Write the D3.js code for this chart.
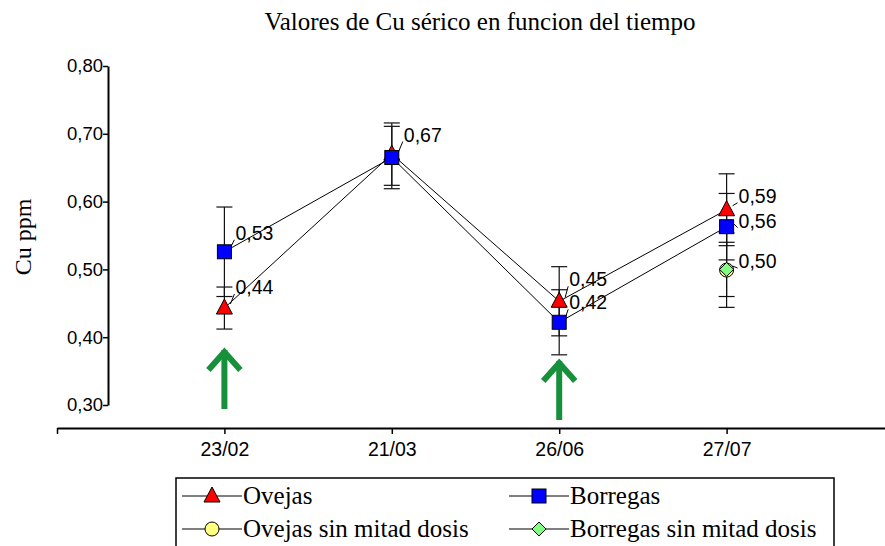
<!DOCTYPE html>
<html>
<head>
<meta charset="utf-8">
<script src="https://cdn.jsdelivr.net/npm/d3@7/dist/d3.min.js"></script>
<style>
  body { margin: 0; background: #fff; }
  svg { display: block; }
</style>
</head>
<body>
<svg id="chart" width="885" height="546"></svg>
<script>
// fechas de muestreo
const fechas = ['23/02', '21/03', '26/06', '27/07'];
const yTicks = [0.30, 0.40, 0.50, 0.60, 0.70, 0.80];

// medias y error por serie (null = sin dato)
const ovejas = [0.443, 0.670, 0.453, 0.588];
const ovejasErr = [0.031, 0.046, 0.051, 0.053];
const borregas = [0.526, 0.665, 0.422, 0.563];
const borregasErr = [0.066, 0.046, 0.048, 0.049];
const ovejasSin = [null, null, null, 0.499];
const ovejasSinErr = [null, null, null, 0.055];
const borregasSin = [null, null, null, 0.500];
const borregasSinErr = [null, null, null, 0.040];

// etiquetas de valor
const etiquetas = [
  { serie: 'borregas', i: 0, text: '0,53', dx: 11, dy: -19 },
  { serie: 'ovejas', i: 0, text: '0,44', dx: 11, dy: -21 },
  { serie: 'borregas', i: 1, text: '0,67', dx: 12, dy: -23 },
  { serie: 'ovejas', i: 2, text: '0,45', dx: 10, dy: -22 },
  { serie: 'borregas', i: 2, text: '0,42', dx: 10, dy: -20 },
  { serie: 'ovejas', i: 3, text: '0,59', dx: 12, dy: -14 },
  { serie: 'borregas', i: 3, text: '0,56', dx: 12, dy: -6 },
  { serie: 'ovejasSin', i: 3, text: '0,50', dx: 12, dy: -9 }
];
const flechas = [0, 2];

const svg = d3.select('#chart');
const x = d3.scaleLinear().domain([0, 5]).range([57, 894]);
const y = d3.scaleLinear().domain([0.30, 0.80]).range([405, 66]);
const yAxisX = 108, xAxisY = 428;
const sans = 'Liberation Sans, Arial, sans-serif';
const serif = 'Liberation Serif, Times New Roman, serif';

const series = {
  ovejas: { vals: ovejas, err: ovejasErr },
  borregas: { vals: borregas, err: borregasErr },
  ovejasSin: { vals: ovejasSin, err: ovejasSinErr },
  borregasSin: { vals: borregasSin, err: borregasSinErr }
};

// título
svg.append('text')
  .attr('x', 480).attr('y', 30)
  .attr('text-anchor', 'middle')
  .attr('font-family', serif)
  .attr('font-size', 25)
  .text('Valores de Cu sérico en funcion del tiempo');

// eje Y
const gy = svg.append('g').attr('transform', `translate(${yAxisX},0)`)
  .call(d3.axisLeft(y).tickValues(yTicks).tickSize(5).tickSizeOuter(0)
    .tickFormat((d) => d3.format('.2f')(d).replace('.', ',')));
gy.select('.domain').attr('stroke', '#000').attr('stroke-width', 2);
gy.selectAll('.tick line').attr('stroke', '#000').attr('stroke-width', 1.5);
gy.selectAll('.tick text')
  .attr('font-family', sans)
  .attr('font-size', 18.5).attr('fill', '#000').attr('x', -5);

svg.append('text')
  .attr('transform', 'translate(31,237) rotate(-90)')
  .attr('text-anchor', 'middle')
  .attr('font-family', serif)
  .attr('font-size', 24)
  .text('Cu ppm');

// eje X
const gx = svg.append('g').attr('transform', `translate(0,${xAxisY})`)
  .call(d3.axisBottom(x).tickValues([0, 1, 2, 3, 4, 5]).tickSize(6).tickSizeOuter(0)
    .tickFormat((d) => fechas[d - 1] || ''));
gx.select('.domain').attr('stroke', '#000').attr('stroke-width', 2);
gx.selectAll('.tick line').attr('stroke', '#000').attr('stroke-width', 1.5);
gx.selectAll('.tick text')
  .attr('font-family', sans)
  .attr('font-size', 19.5).attr('fill', '#000').attr('y', 10).attr('dy', '0.9em');

// flechas verdes
const flechaTop = [347, 358];
const flechaBot = [409, 420];
flechas.forEach((i, k) => {
  const cx = x(i + 1);
  const g = svg.append('g').attr('stroke', '#17903b').attr('fill', 'none')
    .attr('stroke-width', 6);
  g.append('line').attr('x1', cx).attr('x2', cx)
    .attr('y1', flechaTop[k] + 3).attr('y2', flechaBot[k]);
  g.append('path')
    .attr('d', `M${cx - 16},${flechaTop[k] + 23}L${cx},${flechaTop[k] + 5}L${cx + 16},${flechaTop[k] + 23}`);
});

// líneas de series
const line = d3.line()
  .defined((d) => d !== null)
  .x((d, i) => x(i + 1)).y((d) => y(d));
['ovejas', 'borregas'].forEach((k) => {
  svg.append('path').datum(series[k].vals)
    .attr('d', line).attr('fill', 'none')
    .attr('stroke', '#000').attr('stroke-width', 1);
});

// barras de error
Object.keys(series).forEach((k) => {
  const s = series[k];
  s.vals.forEach((v, i) => {
    if (v === null) return;
    const cx = x(i + 1);
    const t = y(v + s.err[i]), b = y(v - s.err[i]);
    const g = svg.append('g').attr('stroke', '#111').attr('stroke-width', 1.2);
    g.append('line').attr('x1', cx).attr('x2', cx).attr('y1', t).attr('y2', b);
    g.append('line').attr('x1', cx - 8).attr('x2', cx + 8).attr('y1', t).attr('y2', t);
    g.append('line').attr('x1', cx - 8).attr('x2', cx + 8).attr('y1', b).attr('y2', b);
  });
});

// etiquetas con línea guía
etiquetas.forEach((e) => {
  const cx = x(e.i + 1), cy = y(series[e.serie].vals[e.i]);
  const lx = cx + e.dx, ly = cy + e.dy;
  svg.append('line')
    .attr('x1', cx + 6).attr('y1', cy - 4)
    .attr('x2', lx - 1).attr('y2', ly + 7)
    .attr('stroke', '#000').attr('stroke-width', 1);
  svg.append('text')
    .attr('x', lx).attr('y', ly + 7)
    .attr('font-family', sans)
    .attr('font-size', 19.5)
    .text(e.text);
});

// marcadores
function marker(g, tipo, cx, cy) {
  if (tipo === 'ovejas') {
    g.append('path').attr('d', `M${cx},${cy - 9}L${cx + 8},${cy + 6}L${cx - 8},${cy + 6}Z`)
      .attr('fill', '#ff0000').attr('stroke', '#000').attr('stroke-width', 1);
  } else if (tipo === 'borregas') {
    g.append('rect').attr('x', cx - 7).attr('y', cy - 7).attr('width', 14).attr('height', 14)
      .attr('fill', '#0000ff').attr('stroke', '#000').attr('stroke-width', 1);
  } else if (tipo === 'ovejasSin') {
    g.append('circle').attr('cx', cx).attr('cy', cy).attr('r', 7)
      .attr('fill', '#ffff80').attr('stroke', '#000').attr('stroke-width', 1);
  } else {
    g.append('path').attr('d', `M${cx},${cy - 7}L${cx + 7},${cy}L${cx},${cy + 7}L${cx - 7},${cy}Z`)
      .attr('fill', '#80ff80').attr('stroke', '#000').attr('stroke-width', 1);
  }
}
const gm = svg.append('g');
['ovejasSin', 'borregasSin', 'ovejas', 'borregas'].forEach((k) => {
  series[k].vals.forEach((v, i) => {
    if (v !== null) marker(gm, k, x(i + 1), y(v));
  });
});

// leyenda
const leyenda = [
  { k: 'ovejas', name: 'Ovejas' },
  { k: 'borregas', name: 'Borregas' },
  { k: 'ovejasSin', name: 'Ovejas sin mitad dosis' },
  { k: 'borregasSin', name: 'Borregas sin mitad dosis' }
];
const gl = svg.append('g');
gl.append('path').attr('d', 'M176,546V478H834V546')
  .attr('fill', 'none').attr('stroke', '#000').attr('stroke-width', 1.5);
leyenda.forEach((l, i) => {
  const lx = i % 2 === 0 ? 182 : 509;
  const ly = i < 2 ? 496 : 529;
  gl.append('line').attr('x1', lx).attr('x2', lx + 60).attr('y1', ly).attr('y2', ly)
    .attr('stroke', '#000').attr('stroke-width', 1);
  marker(gl, l.k, lx + 30, ly);
  gl.append('text').attr('x', lx + 61).attr('y', ly + 8)
    .attr('font-family', serif)
    .attr('font-size', 25)
    .text(l.name);
});
</script>
</body>
</html>
